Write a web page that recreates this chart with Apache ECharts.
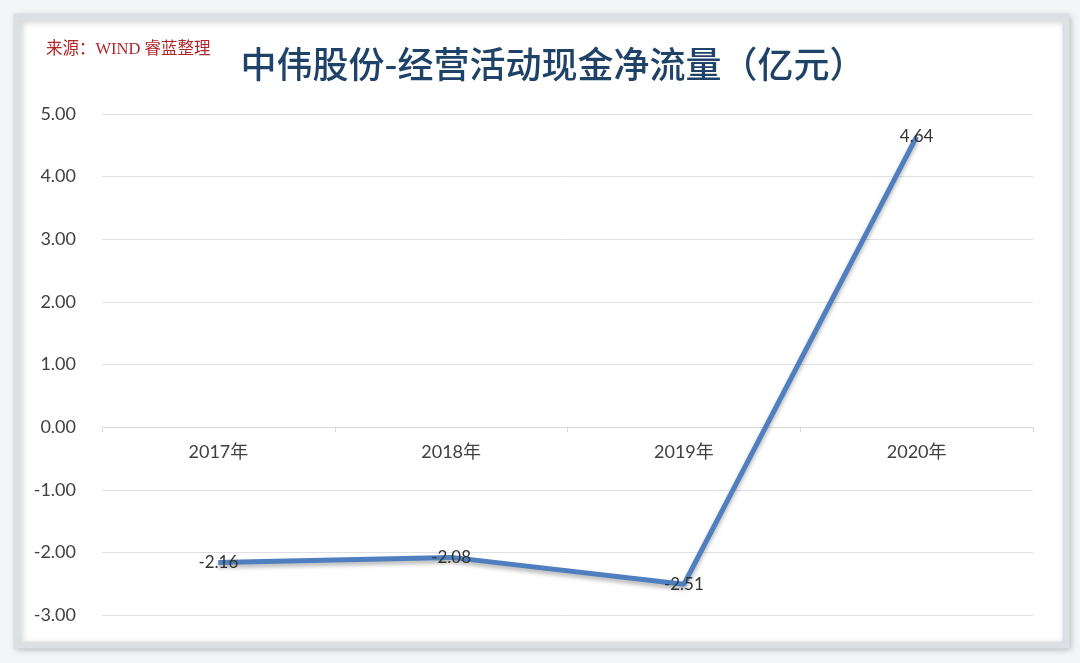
<!DOCTYPE html>
<html lang="zh">
<head>
    <meta charset="UTF-8">
    <title>中伟股份-经营活动现金净流量</title>
    <script src="https://cdn.jsdelivr.net/npm/echarts@6/dist/echarts.min.js"></script>
    <style>
        html, body { margin: 0; padding: 0; background: #fff; }
    </style>
</head>
<body>
    <div id="main" style="width: 1080px;height:663px;"></div>
    <script type="text/javascript">
        // 数据
        var years = ['2017年', '2018年', '2019年', '2020年'];
        var cashFlow = [-2.16, -2.08, -2.51, 4.64];
        var yMin = -3, yMax = 5, yStep = 1;

        var labelFont = "Lato, 'Noto Sans CJK SC', sans-serif";

        // 网格位置
        var gridTop = 114, gridBottom = 48, chartH = 663;
        var gridH = chartH - gridTop - gridBottom;
        // x轴移到0的位置（标签也跟着走）
        var zeroOffset = -gridH * (0 - yMin) / (yMax - yMin);

        var myChart = echarts.init(document.getElementById('main'));

        var option = {
            backgroundColor: '#f4f5f7',
            graphic: [
                {
                    type: 'rect',
                    z: -10,
                    shape: { x: 17, y: 17, width: 1049, height: 628 },
                    style: {
                        fill: '#ffffff',
                        stroke: '#dcdfe4',
                        lineWidth: 7,
                        shadowColor: 'rgba(0,0,0,0.18)',
                        shadowBlur: 6,
                        shadowOffsetX: 2,
                        shadowOffsetY: 2
                    }
                },
                {
                    type: 'text',
                    left: 46,
                    top: 41,
                    style: {
                        text: '来源：WIND 睿蓝整理',
                        fill: '#b0272b',
                        font: "16.5px 'Liberation Serif', 'Noto Sans CJK SC', serif"
                    }
                }
            ],
            title: {
                text: '中伟股份-经营活动现金净流量（亿元）',
                left: 548,
                textAlign: 'center',
                top: 41,
                textStyle: {
                    color: '#1f4268',
                    fontSize: 36,
                    fontWeight: 500,
                    fontFamily: "'Noto Sans CJK SC', sans-serif"
                }
            },
            grid: {
                left: 102,
                right: 47,
                top: gridTop,
                bottom: gridBottom,
                containLabel: false
            },
            xAxis: {
                type: 'category',
                data: years,
                boundaryGap: true,
                position: 'bottom',
                offset: zeroOffset,
                axisLine: { onZero: false, lineStyle: { color: '#d9d9d9', width: 1 } },
                axisTick: { show: true, length: 5, lineStyle: { color: '#d9d9d9' } },
                axisLabel: {
                    color: '#404040',
                    fontSize: 18,
                    fontFamily: labelFont,
                    margin: 16
                }
            },
            yAxis: {
                type: 'value',
                min: yMin,
                max: yMax,
                interval: yStep,
                axisLine: { show: false },
                axisTick: { show: false },
                splitLine: { lineStyle: { color: '#dde0e4', width: 1 } },
                axisLabel: {
                    color: '#404040',
                    fontSize: 18,
                    fontFamily: labelFont,
                    margin: 26,
                    formatter: function (v) { return v.toFixed(2); }
                }
            },
            series: [
                {
                    name: '经营活动现金净流量',
                    type: 'line',
                    data: cashFlow,
                    symbol: 'circle',
                    symbolSize: 1,
                    lineStyle: {
                        color: '#4f7fbe',
                        width: 5,
                        shadowColor: 'rgba(0,0,0,0.3)',
                        shadowBlur: 4,
                        shadowOffsetY: 3
                    },
                    itemStyle: { color: '#4f7fbe' },
                    label: {
                        show: true,
                        position: 'inside',
                        color: '#333333',
                        fontSize: 17,
                        fontFamily: labelFont,
                        formatter: function (p) { return p.value.toFixed(2); }
                    }
                }
            ]
        };

        myChart.setOption(option);
    </script>
</body>
</html>
